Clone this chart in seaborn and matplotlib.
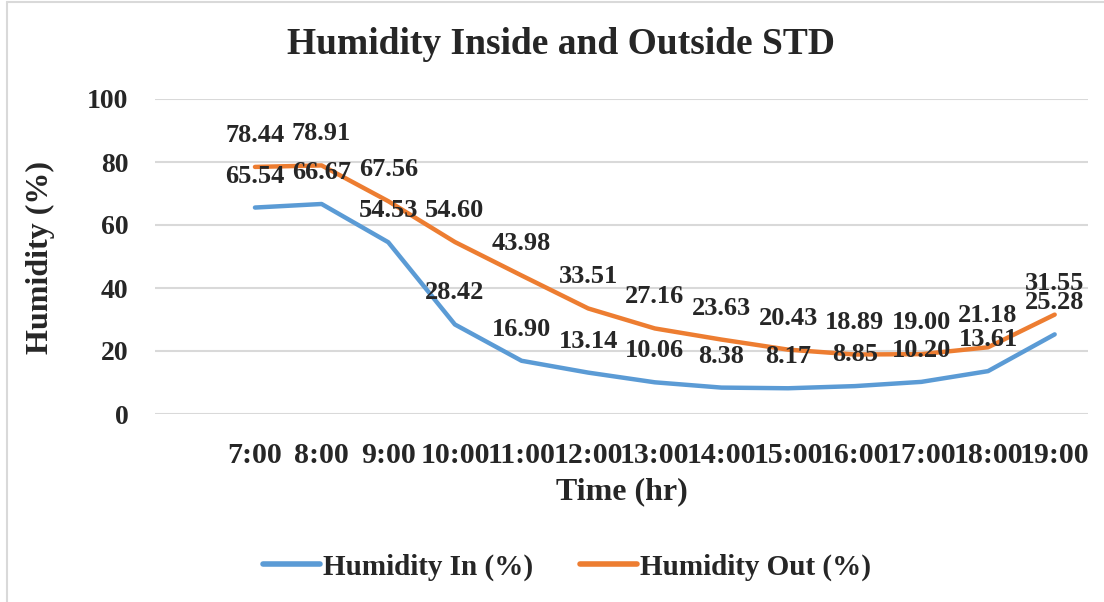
import numpy as np
import pandas as pd
import matplotlib
matplotlib.use("Agg")
import matplotlib.pyplot as plt
from matplotlib.lines import Line2D
import seaborn as sns

times = ["7:00", "8:00", "9:00", "10:00", "11:00", "12:00", "13:00",
         "14:00", "15:00", "16:00", "17:00", "18:00", "19:00"]
humidity_in = [65.54, 66.67, 54.53, 28.42, 16.90, 13.14, 10.06,
               8.38, 8.17, 8.85, 10.20, 13.61, 25.28]
humidity_out = [78.44, 78.91, 67.56, 54.60, 43.98, 33.51, 27.16,
                23.63, 20.43, 18.89, 19.00, 21.18, 31.55]

BLUE = "#5B9BD5"
ORANGE = "#ED7D31"
GRID = "#D9D9D9"

sns.set_theme(style="white")
plt.rcParams["font.family"] = ["Liberation Serif", "DejaVu Serif"]
plt.rcParams["font.weight"] = "bold"

# first category slot is empty in the original sheet
pos = np.arange(1, len(times) + 1)
df = pd.DataFrame({"pos": pos, "in": humidity_in, "out": humidity_out})

fig = plt.figure(figsize=(11.04, 6.02), dpi=100)
ax = fig.add_axes([155 / 1104, 1 - 414 / 602, (1088 - 155) / 1104, (414 - 99) / 602])

sns.lineplot(data=df, x="pos", y="in", color=BLUE, lw=3.2, ax=ax,
             label="Humidity In (%)", solid_capstyle="round")
sns.lineplot(data=df, x="pos", y="out", color=ORANGE, lw=3.2, ax=ax,
             label="Humidity Out (%)", solid_capstyle="round")

for x, v in zip(pos, humidity_in):
    ax.annotate(f"{v:.2f}", (x, v), xytext=(0, 18), textcoords="offset points",
                ha="center", va="baseline", fontsize=19, fontweight="bold")
for x, v in zip(pos, humidity_out):
    ax.annotate(f"{v:.2f}", (x, v), xytext=(0, 18), textcoords="offset points",
                ha="center", va="baseline", fontsize=19, fontweight="bold")

ax.set_xlim(-0.5, len(times) + 0.5)
ax.set_ylim(0, 100)
ax.set_yticks([0, 20, 40, 60, 80, 100])
ax.set_xticks(pos)
ax.set_xticklabels(times)
ax.tick_params(axis="both", length=0)
ax.tick_params(axis="x", pad=20, labelsize=21.5)
ax.tick_params(axis="y", pad=19, labelsize=20)
for lab in ax.get_xticklabels() + ax.get_yticklabels():
    lab.set_fontweight("bold")
ax.grid(axis="y", color=GRID, lw=1.5)
ax.grid(axis="x", visible=False)
for s in ax.spines.values():
    s.set_visible(False)

ax.set_xlabel("")
ax.set_ylabel("")
fig.text(622 / 1104, 1 - 492 / 602, "Time (hr)", ha="center", va="center",
         fontsize=23, fontweight="bold")
fig.text(40 / 1104, 1 - 258 / 602, "Humidity (%)", ha="center", va="center",
         rotation=90, fontsize=23, fontweight="bold")
fig.text(561 / 1104, 1 - 45 / 602, "Humidity Inside and Outside STD",
         ha="center", va="center", fontsize=27, fontweight="bold")

ax.get_legend().remove()
handles = [Line2D([], [], color=BLUE, lw=4), Line2D([], [], color=ORANGE, lw=4)]
fig.legend(handles, ["Humidity In (%)", "Humidity Out (%)"],
           loc="center", bbox_to_anchor=(567 / 1104, 1 - 567 / 602), ncol=2,
           frameon=False, prop={"family": "Liberation Serif", "weight": "bold", "size": 21},
           handlelength=1.95, handletextpad=0.1, columnspacing=1.6)

# chart border (left and top edges visible)
fig.add_artist(Line2D([7 / 1104, 7 / 1104], [0, 1 - 2 / 602], color=GRID, lw=1.5,
                      transform=fig.transFigure))
fig.add_artist(Line2D([7 / 1104, 1], [1 - 2 / 602, 1 - 2 / 602], color=GRID, lw=1.5,
                      transform=fig.transFigure))

fig.savefig("out.png", dpi=100)
